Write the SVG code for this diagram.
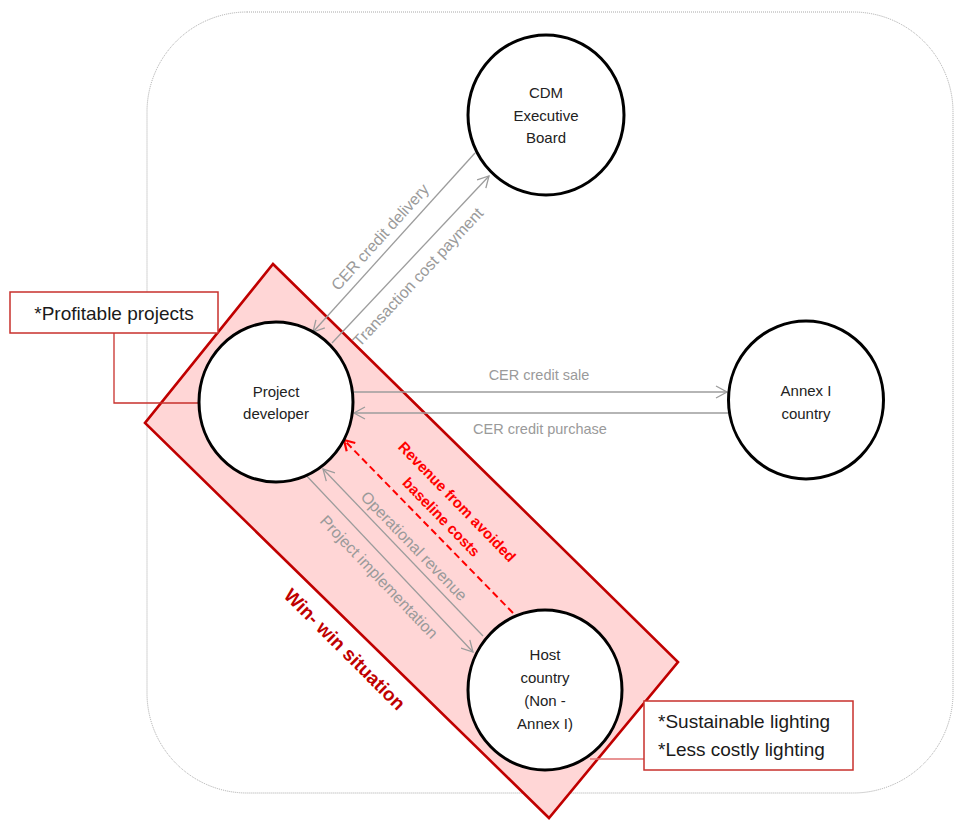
<svg xmlns="http://www.w3.org/2000/svg" width="955" height="820" viewBox="0 0 955 820">
<style>
  .node { fill: #ffffff; stroke: #000000; stroke-width: 3; }
  .nt { font-family: "Liberation Sans", Arial, sans-serif; font-size: 15px; fill: #222222; text-anchor: middle; }
  .conn { stroke: #9c9c9c; stroke-width: 1.3; fill: none; }
  .lbl { font-family: "Liberation Sans", Arial, sans-serif; font-size: 16px; fill: #9a9a9a; text-anchor: middle; }
  .lblh { font-family: "Liberation Sans", Arial, sans-serif; font-size: 14.5px; fill: #9a9a9a; text-anchor: middle; }
  .note { fill: #ffffff; stroke: #c8302c; stroke-width: 1.5; }
  .nt2 { font-family: "Liberation Sans", Arial, sans-serif; font-size: 19px; fill: #1a1a1a; }
</style>
<defs>
  <marker id="ag" viewBox="-13 -8 15 16" refX="0" refY="0" markerWidth="15" markerHeight="16" markerUnits="userSpaceOnUse" orient="auto">
    <path d="M-11,-6 L0,0 L-11,6" fill="none" stroke="#9c9c9c" stroke-width="1.3"/>
  </marker>
  <marker id="ar" viewBox="-13 -8 15 16" refX="0" refY="0" markerWidth="15" markerHeight="16" markerUnits="userSpaceOnUse" orient="auto">
    <path d="M-10,-6 L0,0 L-10,6" fill="none" stroke="#ff0000" stroke-width="2.2"/>
  </marker>
</defs>
<rect width="955" height="820" fill="#ffffff"/>
<g id="boundary">
  <rect x="147" y="12" width="806" height="781" rx="100" ry="100" fill="none" stroke="#a8a8a8" stroke-width="1" stroke-dasharray="1 1"/>
</g>
<g id="win-win-zone">
  <polygon points="273,264 678,662 549,818 145,423" fill="#ffd6d6" stroke="#c00000" stroke-width="2.6" stroke-linejoin="miter"/>
  <text transform="translate(345,649) rotate(45)" y="7" font-family="Liberation Sans, Arial, sans-serif" font-size="19" font-weight="bold" fill="#c00000" text-anchor="middle">Win- win situation</text>
</g>
<g id="connectors">
  <line class="conn" x1="475" y1="153" x2="313" y2="332" marker-end="url(#ag)"/>
  <line class="conn" x1="332" y1="343" x2="489" y2="176" marker-end="url(#ag)"/>
  <line class="conn" x1="354" y1="392" x2="727" y2="392" marker-end="url(#ag)"/>
  <line class="conn" x1="728" y1="413" x2="354" y2="413" marker-end="url(#ag)"/>
  <line class="conn" x1="483" y1="636" x2="323" y2="469" marker-end="url(#ag)"/>
  <line class="conn" x1="303" y1="472" x2="473" y2="652" marker-end="url(#ag)"/>
  <line x1="513" y1="613" x2="344" y2="440" stroke="#ff0000" stroke-width="2" stroke-dasharray="7 4" fill="none" marker-end="url(#ar)"/>
  <polyline points="114,333 114,403 198,403" fill="none" stroke="#c8302c" stroke-width="1.3"/>
  <line x1="590" y1="759" x2="644" y2="759" stroke="#e07070" stroke-width="1.5"/>
  <text class="lbl" transform="translate(380,237) rotate(-47.9)" y="5.5">CER credit delivery</text>
  <text class="lbl" transform="translate(418,277) rotate(-47)" y="5.5">Transaction cost payment</text>
  <text class="lblh" x="539" y="380">CER credit sale</text>
  <text class="lblh" x="540" y="434">CER credit purchase</text>
  <text class="lbl" transform="translate(414,546) rotate(46)" y="5.5">Operational revenue</text>
  <text class="lbl" transform="translate(379,577) rotate(46.5)" y="5.5">Project implementation</text>
  <g transform="translate(449,509.5) rotate(45.8)" font-family="Liberation Sans, Arial, sans-serif" font-size="15" font-weight="bold" fill="#ff0000" text-anchor="middle">
    <text y="-6">Revenue from avoided</text>
    <text y="16">baseline costs</text>
  </g>
</g>
<g id="cdm">
  <ellipse class="node" cx="546" cy="115" rx="78" ry="80"/>
  <text class="nt" x="546" y="98">CDM</text>
  <text class="nt" x="546" y="121">Executive</text>
  <text class="nt" x="546" y="143">Board</text>
</g>
<g id="project-developer">
  <ellipse class="node" cx="276" cy="402" rx="77" ry="80"/>
  <text class="nt" x="276" y="397">Project</text>
  <text class="nt" x="276" y="419">developer</text>
</g>
<g id="annex-i">
  <ellipse class="node" cx="806" cy="400" rx="77.5" ry="79"/>
  <text class="nt" x="806" y="396">Annex I</text>
  <text class="nt" x="806" y="419">country</text>
</g>
<g id="host-country">
  <ellipse class="node" cx="545" cy="690" rx="77" ry="80"/>
  <text class="nt" x="545" y="660">Host</text>
  <text class="nt" x="545" y="683">country</text>
  <text class="nt" x="545" y="706">(Non -</text>
  <text class="nt" x="545" y="729">Annex I)</text>
</g>
<g id="note-profitable">
  <rect class="note" x="10" y="292" width="208" height="41"/>
  <text class="nt2" x="114" y="320" text-anchor="middle">*Profitable projects</text>
</g>
<g id="note-lighting">
  <rect class="note" x="644" y="701" width="209" height="69"/>
  <text class="nt2" x="658" y="728">*Sustainable lighting</text>
  <text class="nt2" x="658" y="756">*Less costly lighting</text>
</g>
</svg>
